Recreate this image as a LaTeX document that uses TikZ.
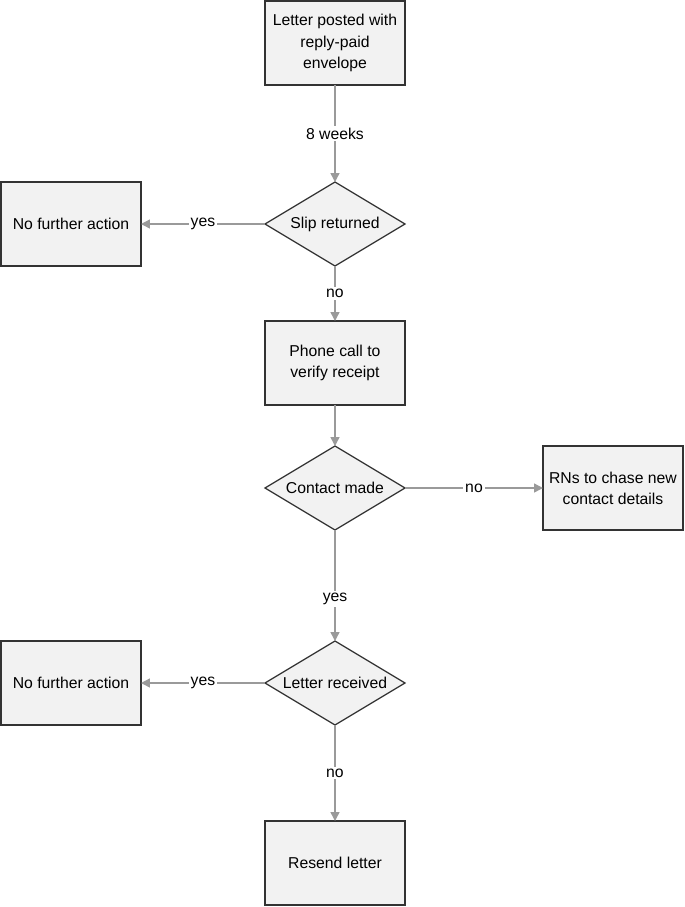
\documentclass[tikz,border=0pt]{standalone}
\usepackage{fontspec}
\setmainfont{Liberation Sans}
\usepackage{xcolor}
\usetikzlibrary{arrows.meta,positioning,shapes.geometric}

\definecolor{boxfill}{HTML}{F2F2F2}
\definecolor{boxline}{HTML}{333333}
\definecolor{flowline}{HTML}{9A9A9A}

\begin{document}
\begin{tikzpicture}[
  box/.style={rectangle, draw=boxline, line width=1.1pt, fill=boxfill,
              align=center, font=\fontsize{11.2}{15}\selectfont,
              minimum width=3.5cm, minimum height=2.1cm, outer sep=0pt},
  decision/.style={diamond, draw=boxline, line width=0.9pt, fill=boxfill,
                   align=center, font=\fontsize{11.2}{15}\selectfont,
                   inner sep=0pt, aspect=1.667,
                   minimum width=3.5cm, minimum height=2.1cm, outer sep=0pt},
  flow/.style={draw=flowline, line width=1pt,
               -{Triangle[length=2.2mm, width=2.2mm]}},
  lbl/.style={fill=white, inner sep=1.5pt, font=\fontsize{11.2}{12}\selectfont}
]
  \useasboundingbox (0,0) rectangle (17.125,-22.675);

  % main column
  \node[box] (letter) at (8.375,-1.075) {Letter posted with\\reply-paid\\envelope};
  \node[decision, below=2.425cm of letter] (slip) {Slip returned};
  \node[box, below=1.375cm of slip] (phone) {Phone call to\\verify receipt};
  \node[decision, below=1.025cm of phone] (contact) {Contact made};
  \node[decision, below=2.775cm of contact] (received) {Letter received};
  \node[box, below=2.4cm of received] (resend) {Resend letter};

  % side boxes
  \node[box, left=3.1cm of slip] (nfa1) {No further action};
  \node[box, right=3.45cm of contact] (chase) {RNs to chase new\\contact details};
  \node[box, left=3.1cm of received] (nfa2) {No further action};

  \draw[flow] (letter) -- node[lbl] {8 weeks} (slip);
  \draw[flow] (slip) -- node[lbl] {yes} (nfa1);
  \draw[flow] (slip) -- node[lbl] {no} (phone);
  \draw[flow] (phone) -- (contact);
  \draw[flow] (contact) -- node[lbl] {no} (chase);
  \draw[flow] (contact) -- node[lbl, pos=0.62] {yes} (received);
  \draw[flow] (received) -- node[lbl] {yes} (nfa2);
  \draw[flow] (received) -- node[lbl] {no} (resend);
\end{tikzpicture}
\end{document}
